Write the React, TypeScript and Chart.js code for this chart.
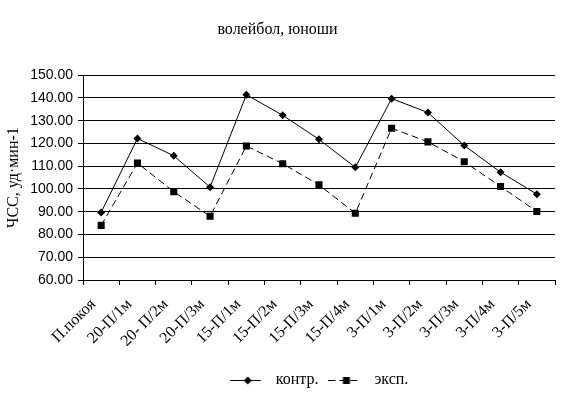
import React, { useEffect, useRef } from 'react';
import { Chart, registerables } from 'chart.js';

Chart.register(...registerables);

const categories = ['П.покоя', '20-П/1м', '20- П/2м', '20-П/3м', '15-П/1м', '15-П/2м', '15-П/3м', '15-П/4м', '3-П/1м', '3-П/2м', '3-П/3м', '3-П/4м', '3-П/5м'];
const kontr = [89.7, 122.2, 114.6, 100.8, 141.4, 132.4, 121.8, 109.5, 139.7, 133.6, 119.1, 107.4, 97.7];
const eksp = [84.0, 111.4, 98.8, 88.0, 118.9, 111.1, 101.8, 89.3, 126.7, 120.7, 112.0, 101.1, 90.1];
const seriesNames = ['контр.', 'эксп.'];
const titleText = 'волейбол, юноши';
const yTitle = 'ЧСС, уд·мин-1';
const yMin = 60;
const yMax = 150;
const yStep = 10;

const SERIF = "'Liberation Serif', 'Times New Roman', serif";
const SANS = "'Liberation Sans', Arial, sans-serif";

function makeIcon(kind: 'diamond' | 'square', dashed: boolean): HTMLCanvasElement {
  const c = document.createElement('canvas');
  c.width = 38;
  c.height = 12;
  const ctx = c.getContext('2d')!;
  ctx.strokeStyle = '#000';
  ctx.fillStyle = '#000';
  ctx.lineWidth = 1;
  if (dashed) ctx.setLineDash([7, 4]);
  ctx.beginPath();
  ctx.moveTo(0, 6.5);
  ctx.lineTo(31, 6.5);
  ctx.stroke();
  ctx.setLineDash([]);
  const cx = 18;
  const cy = 6.5;
  if (kind === 'diamond') {
    ctx.beginPath();
    ctx.moveTo(cx, cy - 4);
    ctx.lineTo(cx + 4, cy);
    ctx.lineTo(cx, cy + 4);
    ctx.lineTo(cx - 4, cy);
    ctx.closePath();
    ctx.fill();
  } else {
    ctx.fillRect(cx - 3.5, cy - 3.5, 7, 7);
  }
  return c;
}

export default function App() {
  const ref = useRef<HTMLCanvasElement | null>(null);

  useEffect(() => {
    if (!ref.current) return;
    const icons = [makeIcon('diamond', false), makeIcon('square', true)];
    const chart = new Chart(ref.current, {
      type: 'line',
      data: {
        labels: categories,
        datasets: [
          {
            label: seriesNames[0],
            data: kontr,
            borderColor: '#000',
            backgroundColor: '#000',
            borderWidth: 1,
            pointStyle: 'rectRot',
            pointRadius: 4,
            pointBorderWidth: 0,
            tension: 0,
          },
          {
            label: seriesNames[1],
            data: eksp,
            borderColor: '#000',
            backgroundColor: '#000',
            borderWidth: 1,
            borderDash: [7, 4],
            pointStyle: 'rect',
            pointRadius: 5,
            pointBorderWidth: 0,
            tension: 0,
          },
        ],
      },
      options: {
        animation: false,
        responsive: false,
        maintainAspectRatio: false,
        layout: { padding: { left: 0, right: 15, top: 0, bottom: 0 } },
        plugins: {
          tooltip: { enabled: false },
          title: {
            display: true,
            text: titleText,
            color: '#000',
            font: { family: SERIF, size: 16, weight: 'normal' },
            padding: { top: 20, bottom: 36 },
          },
          legend: {
            position: 'bottom',
            fullSize: false,
            labels: {
              usePointStyle: true,
              pointStyleWidth: 38,
              padding: 10,
              color: '#000',
              font: { family: SERIF, size: 16 },
              generateLabels: () =>
                seriesNames.map((name, i) => ({
                  text: name,
                  pointStyle: icons[i] as any,
                  fillStyle: '#000',
                  strokeStyle: '#000',
                  lineWidth: 1,
                  hidden: false,
                  datasetIndex: i,
                  fontColor: '#000',
                })),
            },
          },
        },
        scales: {
          x: {
            offset: true,
            afterFit: (scale: any) => {
              scale.height = 82;
            },
            grid: {
              display: true,
              offset: true,
              drawOnChartArea: false,
              drawTicks: true,
              tickLength: 5,
              color: '#000',
            },
            border: { display: true, color: '#000', width: 1 },
            ticks: {
              color: '#000',
              font: { family: SERIF, size: 16 },
              maxRotation: 45,
              minRotation: 45,
              autoSkip: false,
              labelOffset: -8,
              padding: 10,
            },
          },
          y: {
            min: yMin,
            max: yMax,
            afterFit: (scale: any) => {
              scale.width = 83;
            },
            grid: {
              color: '#000',
              lineWidth: 1,
              drawTicks: true,
              tickLength: 5,
            },
            border: { display: true, color: '#000', width: 1 },
            title: {
              display: true,
              text: yTitle,
              color: '#000',
              font: { family: SERIF, size: 16 },
              padding: { top: 4, bottom: 0 },
            },
            ticks: {
              stepSize: yStep,
              color: '#000',
              font: { family: SANS, size: 14 },
              padding: 5,
              callback: (v: any) => Number(v).toFixed(2),
            },
          },
        },
      },
    });
    return () => chart.destroy();
  }, []);

  return (
    <div style={{ position: 'fixed', left: 0, top: 0, width: 570, height: 398, background: '#fff' }}>
      <canvas ref={ref} width={570} height={398} style={{ width: 570, height: 398 }} />
    </div>
  );
}
